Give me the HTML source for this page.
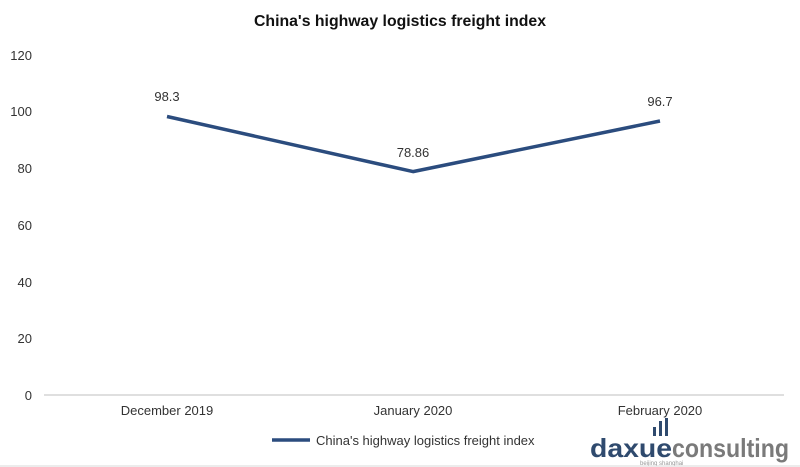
<!DOCTYPE html>
<html><head><meta charset="utf-8"><style>
body{margin:0;background:#fff;width:800px;height:467px;overflow:hidden}
svg{display:block;font-family:"Liberation Sans",sans-serif}
</style></head><body>
<svg width="800" height="467" viewBox="0 0 800 467">
<text x="400" y="26" text-anchor="middle" font-size="16" font-weight="bold" fill="#111" textLength="292" lengthAdjust="spacingAndGlyphs">China's highway logistics freight index</text>
<g font-size="13" fill="#333" text-anchor="end">
<text x="32" y="60">120</text>
<text x="32" y="116">100</text>
<text x="32" y="173">80</text>
<text x="32" y="230">60</text>
<text x="32" y="287">40</text>
<text x="32" y="343">20</text>
<text x="32" y="400">0</text>
</g>
<line x1="44" y1="395" x2="784" y2="395" stroke="#bfbfbf" stroke-width="1"/>
<polyline points="167,116.5 413,171.6 660,121" fill="none" stroke="#2b4c7e" stroke-width="3.5" stroke-linejoin="round"/>
<g font-size="13" fill="#333" text-anchor="middle">
<text x="167" y="101">98.3</text>
<text x="413" y="157">78.86</text>
<text x="660" y="106">96.7</text>
<text x="167" y="415">December 2019</text>
<text x="413" y="415">January 2020</text>
<text x="660" y="415">February 2020</text>
</g>
<line x1="272" y1="440" x2="310" y2="440" stroke="#2b4c7e" stroke-width="3.5"/>
<text x="316" y="445" font-size="13" fill="#333">China's highway logistics freight index</text>
<g fill="#2f4a6e">
<rect x="653" y="427" width="3" height="9"/><rect x="659" y="421" width="3" height="15"/><rect x="665" y="418" width="3" height="18"/>
</g>
<text x="590" y="457" font-size="26" font-weight="bold" fill="#2f4a6e" textLength="82" lengthAdjust="spacingAndGlyphs">daxue</text>
<text x="672" y="457" font-size="26" font-weight="bold" fill="#7a7a7a" textLength="117" lengthAdjust="spacingAndGlyphs">consulting</text>
<text x="640" y="465" font-size="6" fill="#999">beijing shanghai</text>
<line x1="0" y1="466" x2="800" y2="466" stroke="#d8d8d8" stroke-width="1"/>
</svg>
</body></html>
